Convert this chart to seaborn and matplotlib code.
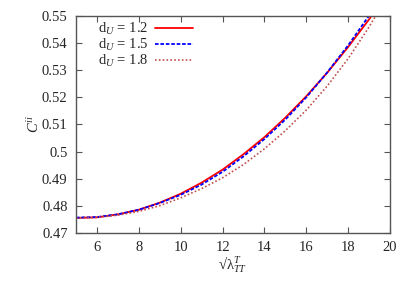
import matplotlib
matplotlib.use('Agg')
import matplotlib.pyplot as plt
import seaborn as sns
import pandas as pd
from matplotlib import font_manager
from matplotlib.ticker import FormatStrFormatter

# sqrt(lambda_TT^T) grid and C values
x_vals = [5, 6, 7, 8, 9, 10, 11, 12, 13, 14, 15, 16, 17, 18, 19, 20]
c_d12 = [0.4755, 0.4757, 0.4768, 0.4785, 0.4811, 0.4844, 0.4885, 0.4933,
         0.4990, 0.5053, 0.5125, 0.5204, 0.5291, 0.5386, 0.5488, 0.5598]
c_d15 = [0.4756, 0.4758, 0.4768, 0.4785, 0.4810, 0.4840, 0.4878, 0.4925,
         0.4982, 0.5046, 0.5118, 0.5200, 0.5292, 0.5392, 0.5502, 0.5620]
c_d18 = [0.4755, 0.4757, 0.4765, 0.4779, 0.4800, 0.4829, 0.4863, 0.4903,
         0.4952, 0.5010, 0.5077, 0.5153, 0.5242, 0.5343, 0.5460, 0.5590]
labels = ['d$_U$ = 1.2', 'd$_U$ = 1.5', 'd$_U$ = 1.8']
x_ticks = [6, 8, 10, 12, 14, 16, 18, 20]
y_ticks = [0.47, 0.48, 0.49, 0.50, 0.51, 0.52, 0.53, 0.54, 0.55]

sns.set_style('ticks')
names = {f.name for f in font_manager.fontManager.ttflist}
serif = [n for n in ['Liberation Serif', 'Times New Roman', 'DejaVu Serif'] if n in names]
plt.rcParams['font.family'] = 'serif'
plt.rcParams['font.serif'] = serif
plt.rcParams['mathtext.fontset'] = 'custom'
plt.rcParams['mathtext.rm'] = serif[0]
plt.rcParams['mathtext.it'] = serif[0] + ':italic'

df = pd.DataFrame({'x': x_vals * 3,
                   'C': c_d12 + c_d15 + c_d18,
                   'series': [labels[0]] * 16 + [labels[1]] * 16 + [labels[2]] * 16})

fig, ax = plt.subplots(figsize=(4.15, 2.91), dpi=100)
fig.subplots_adjust(left=0.183, right=0.940, bottom=0.200, top=0.945)

styles = {labels[0]: dict(color='#ff0000', lw=1.3, ls='-'),
          labels[1]: dict(color='#0000ff', lw=1.3, ls=(0, (2, 1))),
          labels[2]: dict(color='#c0504d', lw=1.2, ls=(0, (1, 1.3)))}
for name in labels:
    sub = df[df['series'] == name]
    st = styles[name]
    sns.lineplot(data=sub, x='x', y='C', ax=ax, color=st['color'],
                 linewidth=st['lw'], linestyle=st['ls'], label=name)

ax.set_xlim(5, 20)
ax.set_ylim(0.47, 0.55)
ax.set_xticks(x_ticks)
ax.set_yticks(y_ticks)
ax.yaxis.set_major_formatter(FormatStrFormatter('%g'))
ax.tick_params(direction='in', length=4, width=0.8, top=True, right=True,
               labelsize=10.5, color='#555555', pad=6)
for sp in ax.spines.values():
    sp.set_color('#555555')
    sp.set_linewidth(1.0)

ax.set_xlabel('√λ$_{TT}^{T}$', fontsize=10.5, labelpad=0)
ax.set_ylabel('$C^{ii}$', fontsize=10.5, labelpad=0)

ax.legend(loc='upper left', frameon=False, markerfirst=False, fontsize=10.5,
          handlelength=2.6, handletextpad=0.5, labelspacing=0.0,
          borderaxespad=0.1, borderpad=0.2, bbox_to_anchor=(0.055, 0.998))

fig.savefig('out.png', dpi=100)
